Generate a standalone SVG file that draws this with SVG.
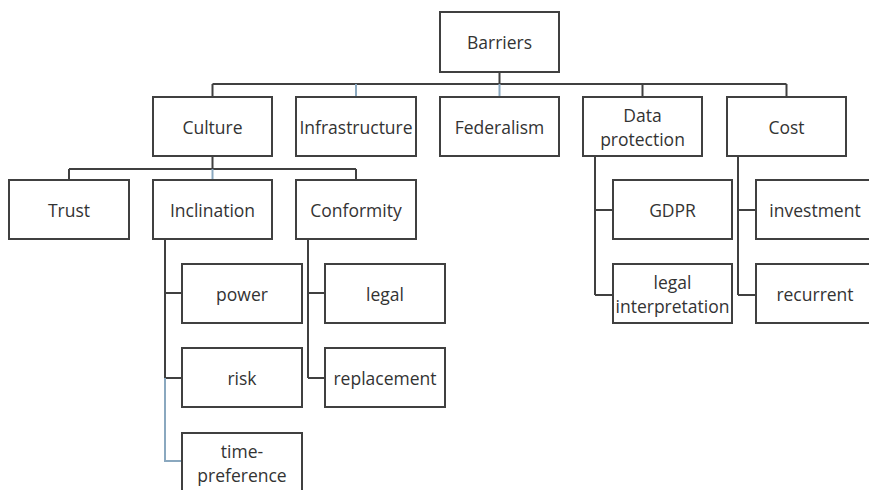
<svg xmlns="http://www.w3.org/2000/svg" width="869" height="490" viewBox="0 0 869 490">
<style>
.box{fill:#fff;stroke:#404040;stroke-width:2}
.t{font-family:"Open Sans","Liberation Sans",sans-serif;font-size:17.5px;fill:#333;text-anchor:middle;dominant-baseline:central}
.c{fill:none;stroke:#404040;stroke-width:2}
.b{fill:none;stroke:#8aa8bf;stroke-width:2}
</style>
<rect width="869" height="490" fill="#fff"/>
<g id="connectors">
<path class="c" d="M499.5 72V84M212.5 84H786.5M212.5 84V97M642.5 84V97M786.5 84V97"/>
<path class="b" d="M356 84V97M499.5 84V97"/>
<path class="c" d="M212.5 156V169M69 169H356M69 169V180M356 169V180"/>
<path class="b" d="M212.5 169V180"/>
<path class="c" d="M165 239V378M165 293H182M165 378H182"/>
<path class="b" d="M165 378V461H182"/>
<path class="c" d="M308 239V378M308 293H325M308 378H325"/>
<path class="c" d="M595 156V295M595 210H613M595 295H613"/>
<path class="c" d="M738 156V295M738 210H756M738 295H756"/>
</g>
<g id="barriers"><rect class="box" x="440" y="12" width="119" height="60"/><text class="t" x="499.5" y="42">Barriers</text></g>
<g id="culture"><rect class="box" x="153" y="97" width="119" height="59"/><text class="t" x="212.5" y="126.5">Culture</text></g>
<g id="infrastructure"><rect class="box" x="296" y="97" width="120" height="59"/><text class="t" x="356" y="126.5">Infrastructure</text></g>
<g id="federalism"><rect class="box" x="440" y="97" width="119" height="59"/><text class="t" x="499.5" y="126.5">Federalism</text></g>
<g id="data-protection"><rect class="box" x="583" y="97" width="119" height="59"/><text class="t" x="642.5" y="114.5">Data</text><text class="t" x="642.5" y="138.5">protection</text></g>
<g id="cost"><rect class="box" x="727" y="97" width="119" height="59"/><text class="t" x="786.5" y="126.5">Cost</text></g>
<g id="trust"><rect class="box" x="9" y="180" width="120" height="59"/><text class="t" x="69" y="209.5">Trust</text></g>
<g id="inclination"><rect class="box" x="153" y="180" width="119" height="59"/><text class="t" x="212.5" y="209.5">Inclination</text></g>
<g id="conformity"><rect class="box" x="296" y="180" width="120" height="59"/><text class="t" x="356" y="209.5">Conformity</text></g>
<g id="power"><rect class="box" x="182" y="264" width="120" height="59"/><text class="t" x="242" y="293.5">power</text></g>
<g id="risk"><rect class="box" x="182" y="348" width="120" height="59"/><text class="t" x="242" y="377.5">risk</text></g>
<g id="time-preference"><rect class="box" x="182" y="433" width="120" height="60"/><text class="t" x="242" y="451">time-</text><text class="t" x="242" y="475">preference</text></g>
<g id="legal"><rect class="box" x="325" y="264" width="120" height="59"/><text class="t" x="385" y="293.5">legal</text></g>
<g id="replacement"><rect class="box" x="325" y="348" width="120" height="59"/><text class="t" x="385" y="377.5">replacement</text></g>
<g id="gdpr"><rect class="box" x="613" y="180" width="119" height="59"/><text class="t" x="672.5" y="209.5">GDPR</text></g>
<g id="legal-interpretation"><rect class="box" x="613" y="264" width="119" height="59"/><text class="t" x="672.5" y="281.5">legal</text><text class="t" x="672.5" y="305.5">interpretation</text></g>
<g id="investment"><rect class="box" x="756" y="180" width="120" height="59"/><text class="t" x="815" y="209.5">investment</text></g>
<g id="recurrent"><rect class="box" x="756" y="264" width="120" height="59"/><text class="t" x="815" y="293.5">recurrent</text></g>
</svg>
